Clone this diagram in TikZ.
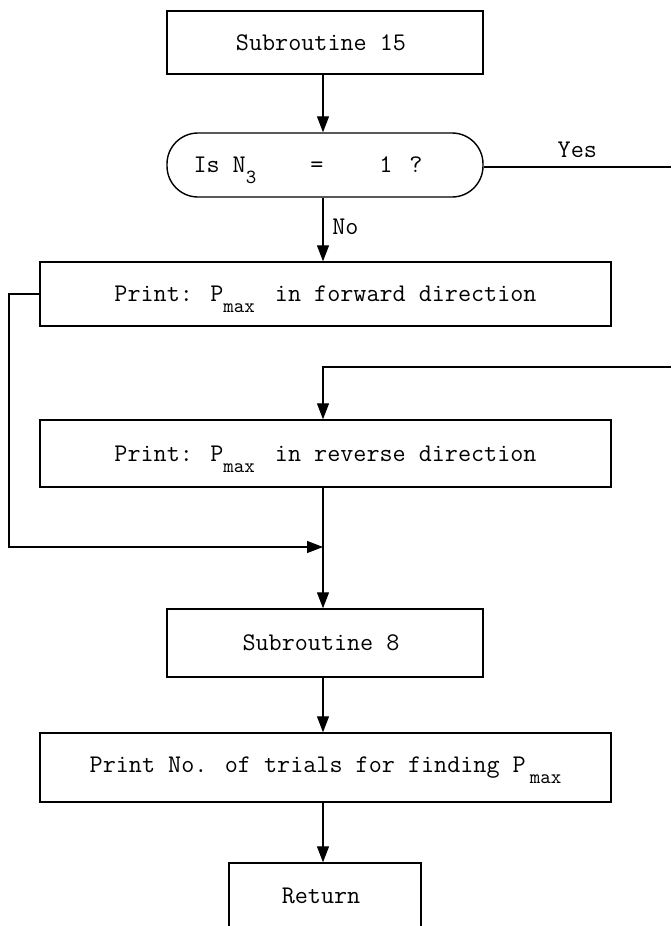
\documentclass[tikz,border=0pt]{standalone}
\usepackage{fontspec}
\usepackage{tikz}
\usetikzlibrary{arrows.meta,positioning,calc}
\newcommand{\lowsub}[1]{\raisebox{-5.5pt}[0pt][0pt]{\fontsize{10}{10}\selectfont #1}}

\begin{document}
\begin{tikzpicture}[x=0.5pt,y=-0.5pt,
  font=\ttfamily\fontsize{12.7}{14}\selectfont,
  box/.style={draw,line width=0.7pt,inner sep=0pt},
  decide/.style={draw,line width=0.7pt,rounded corners=15.5pt,inner sep=0pt,
                 minimum width=158pt,minimum height=32pt},
  flow/.style={line width=0.6pt,-{Triangle[length=8pt,width=6pt]}},
  plain/.style={line width=0.6pt},
]
\useasboundingbox (0,0) rectangle (671,926);
\clip (0,0) rectangle (671,926);

% main column
\node[box,minimum width=158pt,minimum height=31.5pt] (sub15) at (325,42.5)
  {Subroutine 15\hspace{4pt}\null};
\node[decide] (isN) at (325,165)
  {Is\hspace{6.5pt}N\lowsub{3}\hspace{27pt}=\hspace{28pt}1\hspace{8.5pt}?\hspace{17pt}\null};
\node[box,minimum width=285.5pt,minimum height=32pt] (fwd) at (325.5,294)
  {Print: P\lowsub{max}\hspace{10pt}in forward direction};
\node[box,minimum width=285.5pt,minimum height=33.5pt] (rev) at (325.5,453.5)
  {Print: P\lowsub{max}\hspace{10pt}in reverse direction};
\node[box,minimum width=158pt,minimum height=34pt] (sub8) at (325,643)
  {Subroutine 8\hspace{4pt}\null};
\node[box,minimum width=285.5pt,minimum height=34.5pt] (trials) at (325.5,767.5)
  {Print No. of trials for finding P\hspace{2pt}\lowsub{max}};
\node[box,minimum width=96pt,minimum height=38.5pt] (ret) at (325,901.5)
  {\raisebox{6pt}{Return\hspace{4pt}\null}};

\coordinate (yesend) at (671,167);
\coordinate (revin) at (671,367);
\coordinate (join) at (323,547);

\draw[flow] (sub15.south -| join) -- (isN.north -| join);
\draw[flow] (isN.south -| join) -- node[right=1pt,pos=0.45] (nolab) {No} (fwd.north -| join);
\draw[plain] (isN.east |- yesend) -- node[above=1pt,pos=0.5] (yeslab) {Yes} (yesend);
\draw[flow] (revin) -- (revin -| join) -- (rev.north -| join);
\draw[plain] (rev.south -| join) -- (join);
\draw[flow] (fwd.west) -- (9,294) -- (9,547) -- (join);
\draw[flow] (join) -- (sub8.north -| join);
\draw[flow] (sub8.south -| join) -- (trials.north -| join);
\draw[flow] (trials.south -| join) -- (ret.north -| join);
\end{tikzpicture}
\end{document}
